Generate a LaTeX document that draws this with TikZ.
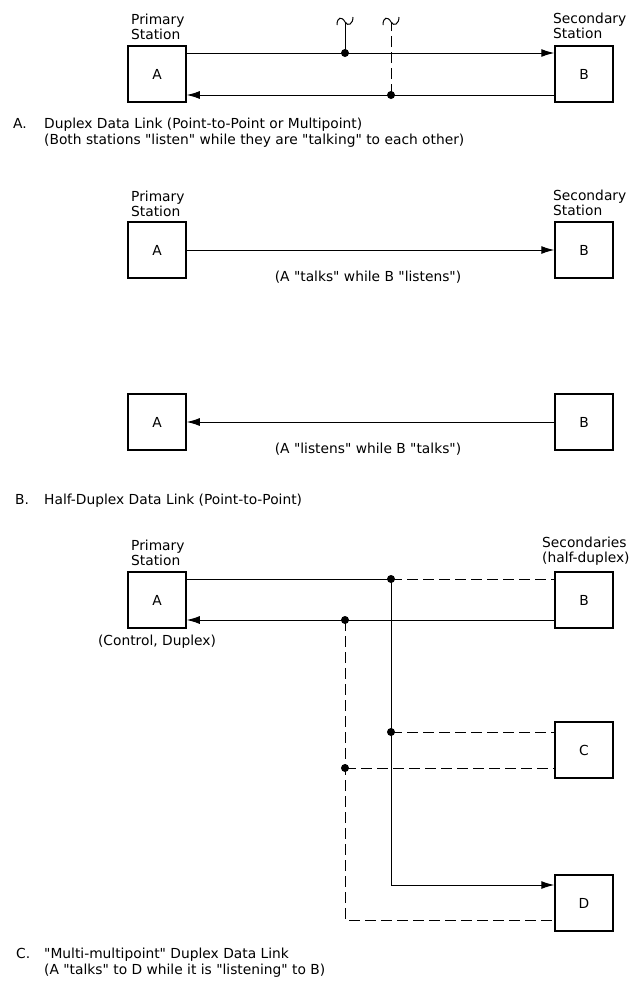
\documentclass[tikz,border=0pt]{standalone}
\usepackage{fontspec}
\setmainfont{DejaVu Sans}[Ligatures=TeXOff]
\usetikzlibrary{arrows.meta}
\begin{document}
\begin{tikzpicture}[x=1bp,y=-1bp,
  box/.style={draw, line width=1.5bp, minimum width=58bp, minimum height=56bp, inner sep=0pt, font=\fontsize{13.8bp}{14.5bp}\selectfont},
  lbl/.style={inner sep=0pt, align=left, anchor=south west, font=\fontsize{13.8bp}{15bp}\selectfont},
  txt/.style={inner sep=0pt, anchor=base, font=\fontsize{13.8bp}{15bp}\selectfont},
  captext/.style={inner sep=0pt, align=left, anchor=north west, font=\fontsize{13.8bp}{16bp}\selectfont},
  wire/.style={line width=1bp},
  dwire/.style={line width=1bp, dash pattern=on 11bp off 5bp},
  arr/.style={-{Latex[length=13bp,width=8bp]}},
  dot/.style={fill, circle, inner sep=0pt, minimum size=8bp}
]
\useasboundingbox (0,0) rectangle (637,990);

% ---------------- Part A ----------------
\node[box] (A1) at (157,74) {A};
\node[box] (B1) at (584,74) {B};
\node[lbl] (pA1) at (131,40) {Primary\\Station};
\node[lbl] (sB1) at (553,39) {Secondary\\Station};
\draw[wire,arr] (A1.east |- 0,53) -- (B1.west |- 0,53);
\draw[wire,arr] (B1.west |- 0,95) -- (A1.east |- 0,95);
\node[dot] (d1) at (345,53) {};
\node[dot] (d2) at (391,95) {};
\coordinate (t1) at (345,22);
\coordinate (t2) at (391,22);
\draw[wire] (d1.center) -- (t1);
\draw[dwire] (d2.center) -- (t2);
\draw[wire] (337,25) .. controls (337,17) and (342,16) .. (t1) .. controls (348,27) and (353,24) .. (353,17);
\draw[wire] (383,25) .. controls (383,17) and (388,16) .. (t2) .. controls (394,27) and (399,24) .. (399,17);
\node[captext] (capA) at (13,118) {A.};
\node[captext] (capAt) at (44,118) {Duplex Data Link (Point-to-Point or Multipoint)\\(Both stations "listen" while they are "talking" to each other)};

% ---------------- Part B ----------------
\node[box] (A2) at (157,250) {A};
\node[box] (B2) at (584,250) {B};
\node[lbl] (pA2) at (131,217) {Primary\\Station};
\node[lbl] (sB2) at (553,216) {Secondary\\Station};
\draw[wire,arr] (A2) -- (B2);
\node[txt] (tB1) at (368,281) {(A "talks" while B "listens")};
\node[box] (A3) at (157,422) {A};
\node[box] (B3) at (584,422) {B};
\draw[wire,arr] (B3) -- (A3);
\node[txt] (tB2) at (368,453) {(A "listens" while B "talks")};
\node[captext] (capB) at (15,494) {B.};
\node[captext] (capBt) at (44,494) {Half-Duplex Data Link (Point-to-Point)};

% ---------------- Part C ----------------
\node[box] (A4) at (157,600) {A};
\node[box] (B4) at (584,600) {B};
\node[box] (C4) at (584,750) {C};
\node[box] (D4) at (584,903) {D};
\node[lbl] (pA4) at (131,566) {Primary\\Station};
\node[lbl] (sB4) at (542,566) {Secondaries\\(half-duplex)};
\node[txt] (ctl) at (157,645) {(Control, Duplex)};

\node[dot] (j1) at (391,579) {};
\node[dot] (j2) at (345,620) {};
\node[dot] (j3) at (391,732) {};
\node[dot] (j4) at (345,768) {};
\coordinate (k1) at (391,885);
\coordinate (k2) at (345,920);

\draw[wire] (A4.east |- j1) -- (j1.center);
\draw[dwire] (j1.center) -- (B4.west |- j1);
\draw[wire,arr] (B4.west |- j2) -- (A4.east |- j2);
\draw[wire,arr] (j1.center) -- (k1) -- (D4.west |- k1);
\draw[dwire] (j2.center) -- (k2) -- (D4.west |- k2);
\draw[dwire] (j3.center) -- (C4.west |- j3);
\draw[dwire] (j4.center) -- (C4.west |- j4);

\node[captext] (capC) at (16,948) {C.};
\node[captext] (capCt) at (44,948) {"Multi-multipoint" Duplex Data Link\\(A "talks" to D while it is "listening" to B)};
\end{tikzpicture}
\end{document}
